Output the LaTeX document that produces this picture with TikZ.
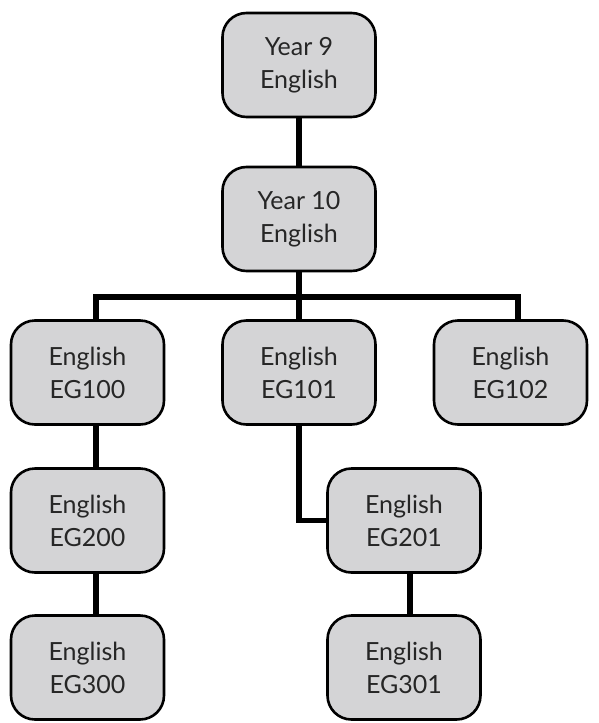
\documentclass[tikz,border=0pt]{standalone}
\usepackage{fontspec}
\setmainfont{Lato}
\begin{document}
\begin{tikzpicture}[x=1pt,y=-1pt,
  box/.style={draw=black,line width=2.6pt,rounded corners=24pt,fill=boxgrey,
    minimum width=153pt,minimum height=104pt,inner sep=0pt,align=center,
    font=\fontsize{25}{33}\selectfont,text=black!85},
  link/.style={line width=5.5pt,draw=black}]
\definecolor{boxgrey}{HTML}{D4D4D6}
\useasboundingbox (0,0) rectangle (599,723);
\node[box] (y9) at (299,65) {Year 9\\English};
\node[box] (y10) at (299,219) {Year 10\\English};
\node[box] (e100) at (87.5,372.5) {English\\EG100};
\node[box] (e101) at (299,372.5) {English\\EG101};
\node[box] (e102) at (510.5,372.5) {English\\EG102};
\node[box] (e200) at (87.5,520.5) {English\\EG200};
\node[box] (e201) at (404,520.5) {English\\EG201};
\node[box] (e300) at (87.5,667.5) {English\\EG300};
\node[box] (e301) at (404,667.5) {English\\EG301};
\coordinate (bar) at (299,297);
\draw[link] (y9.south) -- (y10.north);
\draw[link] (y10.south) -- (bar);
\draw[link] (e100.north -| 96,0) |- (bar) -| (e102.north -| 518,0);
\draw[link] (bar) -- (e101.north);
\draw[link] (e100.south -| 96,0) -- (e200.north -| 96,0);
\draw[link] (e200.south -| 96,0) -- (e300.north -| 96,0);
\draw[link] (e101.south) |- (e201.west);
\draw[link] (e201.south -| 410,0) -- (e301.north -| 410,0);
\end{tikzpicture}
\end{document}
